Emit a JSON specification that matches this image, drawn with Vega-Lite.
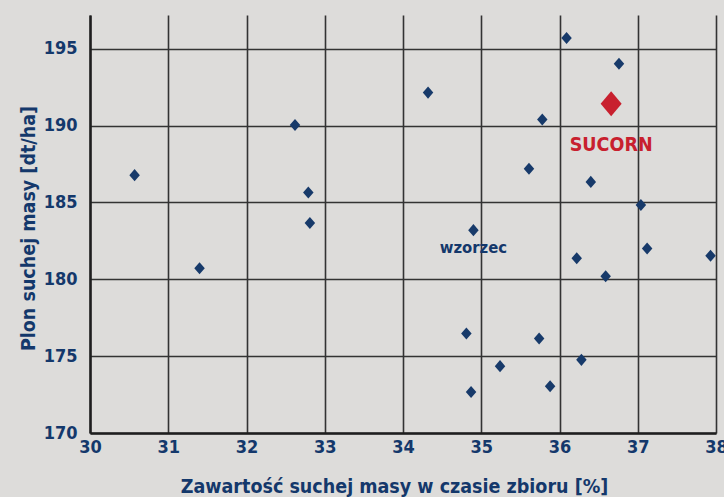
{
  "$schema": "https://vega.github.io/schema/vega-lite/v6.json",
  "autosize": {"type": "none"},
  "width": 626,
  "height": 418,
  "padding": {"left": 90, "top": 15, "right": 8, "bottom": 64},
  "background": "#dddcda",
  "config": {
    "view": {"stroke": null},
    "font": "DejaVu Sans Condensed, Liberation Sans Narrow, sans-serif"
  },
  "datasets": {
    "points": [
      {"x": 30.57, "y": 186.78, "group": "other"},
      {"x": 31.40, "y": 180.72, "group": "other"},
      {"x": 32.62, "y": 190.04, "group": "other"},
      {"x": 32.79, "y": 185.65, "group": "other"},
      {"x": 32.81, "y": 183.67, "group": "other"},
      {"x": 34.32, "y": 192.15, "group": "other"},
      {"x": 34.90, "y": 183.20, "group": "other"},
      {"x": 34.81, "y": 176.48, "group": "other"},
      {"x": 34.87, "y": 172.67, "group": "other"},
      {"x": 35.24, "y": 174.35, "group": "other"},
      {"x": 35.88, "y": 173.04, "group": "other"},
      {"x": 35.74, "y": 176.15, "group": "other"},
      {"x": 36.28, "y": 174.76, "group": "other"},
      {"x": 36.22, "y": 181.37, "group": "other"},
      {"x": 36.59, "y": 180.20, "group": "other"},
      {"x": 37.12, "y": 182.00, "group": "other"},
      {"x": 37.93, "y": 181.53, "group": "other"},
      {"x": 37.04, "y": 184.84, "group": "other"},
      {"x": 36.09, "y": 195.70, "group": "other"},
      {"x": 36.76, "y": 194.03, "group": "other"},
      {"x": 35.78, "y": 190.40, "group": "other"},
      {"x": 35.61, "y": 187.19, "group": "other"},
      {"x": 36.40, "y": 186.34, "group": "other"},
      {"x": 36.66, "y": 191.43, "group": "SUCORN"}
    ],
    "labels": [
      {"x": 36.66, "y": 188.32, "label": "SUCORN", "group": "SUCORN"},
      {"x": 34.90, "y": 181.70, "label": "wzorzec", "group": "other"}
    ]
  },
  "encoding": {
    "x": {
      "field": "x",
      "type": "quantitative",
      "scale": {"domain": [30, 38], "nice": false, "zero": false},
      "axis": {
        "title": "Zawartość suchej masy w czasie zbioru [%]",
        "values": [30, 31, 32, 33, 34, 35, 36, 37, 38],
        "format": "d",
        "grid": true,
        "gridColor": "#333333",
        "gridWidth": 1.6,
        "gridOpacity": 1,
        "ticks": false,
        "domainColor": "#1e1e1e",
        "domainWidth": 2.5,
        "labelFont": "DejaVu Sans Condensed, Liberation Sans Narrow, sans-serif",
        "labelFontSize": 18,
        "labelFontWeight": "bold",
        "labelColor": "#14386b",
        "labelPadding": 5,
        "labelDx": 4,
        "labelFlush": false,
        "labelOverlap": false,
        "titleFont": "DejaVu Sans Condensed, Liberation Sans Narrow, sans-serif",
        "titleFontSize": 19.5,
        "titleFontWeight": "bold",
        "titleColor": "#14386b",
        "titleBaseline": "alphabetic",
        "titleAlign": "center",
        "titleAnchor": "middle",
        "titleX": 304,
        "titleY": 59
      }
    },
    "y": {
      "field": "y",
      "type": "quantitative",
      "scale": {"domain": [170, 197.2], "nice": false, "zero": false},
      "axis": {
        "title": "Plon suchej masy [dt/ha]",
        "values": [170, 175, 180, 185, 190, 195],
        "grid": true,
        "gridColor": "#333333",
        "gridWidth": 1.6,
        "gridOpacity": 1,
        "ticks": false,
        "domainColor": "#1e1e1e",
        "domainWidth": 2.5,
        "labelFont": "DejaVu Sans Condensed, Liberation Sans Narrow, sans-serif",
        "labelFontSize": 18,
        "labelFontWeight": "bold",
        "labelColor": "#14386b",
        "labelPadding": 13,
        "labelBaseline": "middle",
        "labelFlush": false,
        "labelOverlap": false,
        "titleFont": "DejaVu Sans Condensed, Liberation Sans Narrow, sans-serif",
        "titleFontSize": 19.5,
        "titleFontWeight": "bold",
        "titleColor": "#14386b",
        "titleAngle": 270,
        "titleBaseline": "alphabetic",
        "titleAlign": "center",
        "titleX": -56,
        "titleY": 213
      }
    }
  },
  "layer": [
    {
      "data": {"name": "points"},
      "transform": [{"filter": "datum.group === 'other'"}],
      "mark": {
        "type": "point",
        "shape": "M0,-1.15L1,0L0,1.15L-1,0Z",
        "filled": true,
        "opacity": 1,
        "size": 110,
        "color": "#173a6a",
        "strokeWidth": 0
      }
    },
    {
      "data": {"name": "points"},
      "transform": [{"filter": "datum.group === 'SUCORN'"}],
      "mark": {
        "type": "point",
        "shape": "M0,-1.19L1,0L0,1.19L-1,0Z",
        "filled": true,
        "opacity": 1,
        "size": 441,
        "color": "#c8202e",
        "strokeWidth": 0
      }
    },
    {
      "data": {"name": "labels"},
      "mark": {
        "type": "text",
        "align": "center",
        "baseline": "alphabetic",
        "fontWeight": "bold",
        "font": "DejaVu Sans Condensed, Liberation Sans Narrow, sans-serif"
      },
      "encoding": {
        "text": {"field": "label"},
        "color": {
          "field": "group",
          "type": "nominal",
          "scale": {"domain": ["SUCORN", "other"], "range": ["#c8202e", "#14386b"]},
          "legend": null
        },
        "size": {
          "field": "group",
          "type": "nominal",
          "scale": {"domain": ["SUCORN", "other"], "range": [19.5, 16.5]},
          "legend": null
        }
      }
    }
  ]
}
